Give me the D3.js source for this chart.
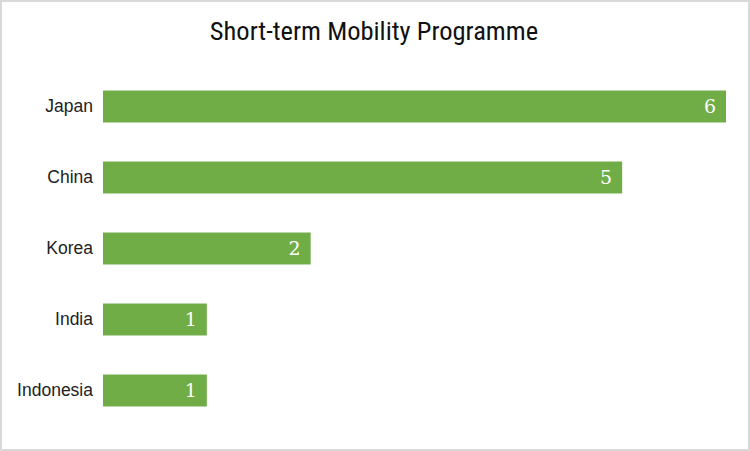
<!DOCTYPE html>
<html><head><meta charset="utf-8">
<script src="https://cdn.jsdelivr.net/npm/d3@7"></script>
<style>body{margin:0;background:#fff}svg{display:block}</style>
</head><body>
<script>
const categories = ["Japan", "China", "Korea", "India", "Indonesia"];
const values = [6, 5, 2, 1, 1];
const title = "Short-term Mobility Programme";

const W = 750, H = 451;
const svg = d3.select("body").append("svg").attr("width", W).attr("height", H);
svg.append("rect").attr("x", 1).attr("y", 1).attr("width", W - 2).attr("height", H - 2)
  .attr("fill", "#fff").attr("stroke", "#d9d9d9").attr("stroke-width", 2);

svg.append("text").attr("x", 374).attr("y", 40).attr("text-anchor", "middle")
  .attr("font-family", "'Liberation Sans Narrow', 'Roboto Condensed', 'Liberation Sans', sans-serif")
  .attr("font-size", 26.5).attr("fill", "#111").text(title);

const x = d3.scaleLinear().domain([0, 6]).range([103, 726]);
const y = d3.scaleBand().domain(categories).range([71, 426]).paddingInner(0.55).paddingOuter(0.275);

svg.selectAll("rect.bar").data(categories).enter().append("rect").attr("class", "bar")
  .attr("x", x(0)).attr("y", d => y(d))
  .attr("width", (d, i) => x(values[i]) - x(0)).attr("height", y.bandwidth())
  .attr("fill", "#70ad47");

const yAxis = d3.axisLeft(y).tickSize(0).tickPadding(10);
const g = svg.append("g").attr("transform", `translate(${x(0)},0)`).call(yAxis);
g.select(".domain").remove();
g.selectAll("text").attr("font-family", "'Liberation Sans Narrow', 'Liberation Sans', sans-serif")
  .attr("font-size", 17.5).attr("fill", "#222");

svg.selectAll("text.val").data(categories).enter().append("text").attr("class", "val")
  .attr("x", (d, i) => x(values[i]) - 10).attr("y", d => y(d) + y.bandwidth() / 2)
  .attr("dy", "0.36em").attr("text-anchor", "end")
  .attr("font-family", "'DejaVu Serif', 'Liberation Serif', serif")
  .attr("font-size", 19).attr("fill", "#fff")
  .text((d, i) => values[i]);
</script>
</body></html>
